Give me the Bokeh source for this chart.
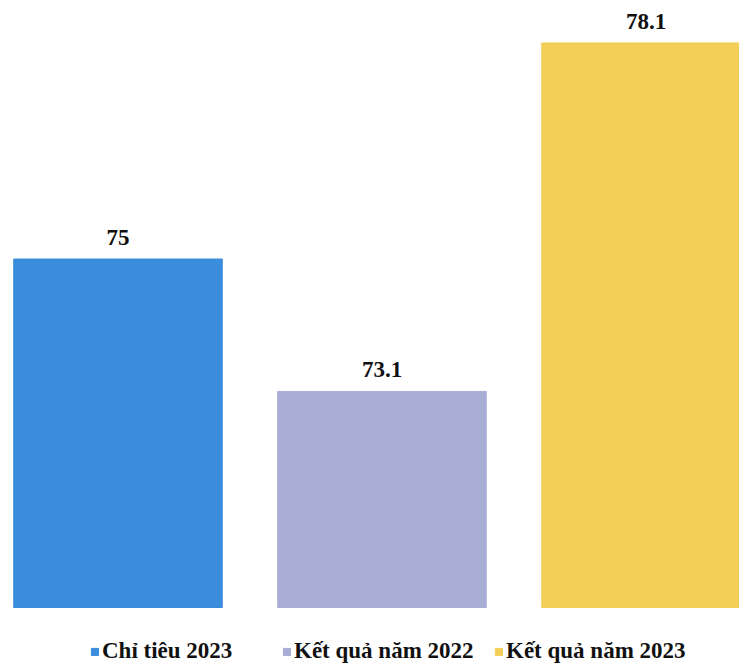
from bokeh.plotting import figure
from bokeh.models import Range1d, ColumnDataSource, Legend, LegendItem
from bokeh.embed import file_html
from bokeh.resources import INLINE
from bokeh.core.properties import value

categories = ["Chỉ tiêu 2023", "Kết quả năm 2022", "Kết quả năm 2023"]
values = [75, 73.1, 78.1]
colors = ["#3a8ddc", "#a7add5", "#f3cf58"]
labels = [f"{v:g}" for v in values]

W, H = 739, 666
BASE = 70.0
px_per_unit = 69.7
y_start = BASE - 59 / px_per_unit
y_end = y_start + H / px_per_unit
legend_x = [90, 282, 494]

x_pos = list(range(len(categories)))
src = ColumnDataSource(dict(x=x_pos, top=values, label=labels))

p = figure(width=W, height=H, output_backend="svg", toolbar_location=None,
           x_range=Range1d(-117.5 / 264, (W - 117.5) / 264),
           y_range=Range1d(y_start, y_end),
           min_border=0, min_border_left=0, min_border_right=0,
           min_border_top=0, min_border_bottom=0)
p.axis.visible = False
p.grid.visible = False
p.outline_line_color = None
p.background_fill_color = "white"
p.border_fill_color = "white"

renderers = []
for i in range(len(categories)):
    s = ColumnDataSource(dict(x=[x_pos[i]], top=[values[i]], bottom=[BASE]))
    r = p.vbar(x="x", top="top", bottom="bottom", width=0.79, source=s,
               fill_color=colors[i], line_color=colors[i])
    renderers.append(r)

p.text(x="x", y="top", text="label", source=src, text_align="center",
       text_baseline="bottom", y_offset=-14,
       text_font=value("Liberation Serif"), text_font_style="bold",
       text_font_size="23px", text_color="#111111")

for i in range(len(categories)):
    legend = Legend(items=[LegendItem(label=categories[i], renderers=[renderers[i]])],
                    orientation="horizontal", location=(legend_x[i], 2),
                    label_text_font="Liberation Serif", label_text_font_style="bold",
                    label_text_font_size="23px", label_text_color="#111111",
                    glyph_width=9, glyph_height=9, label_standoff=3,
                    padding=4, margin=0,
                    border_line_color=None, background_fill_alpha=0)
    p.add_layout(legend)

open("out.html", "w").write(file_html(p, INLINE))
